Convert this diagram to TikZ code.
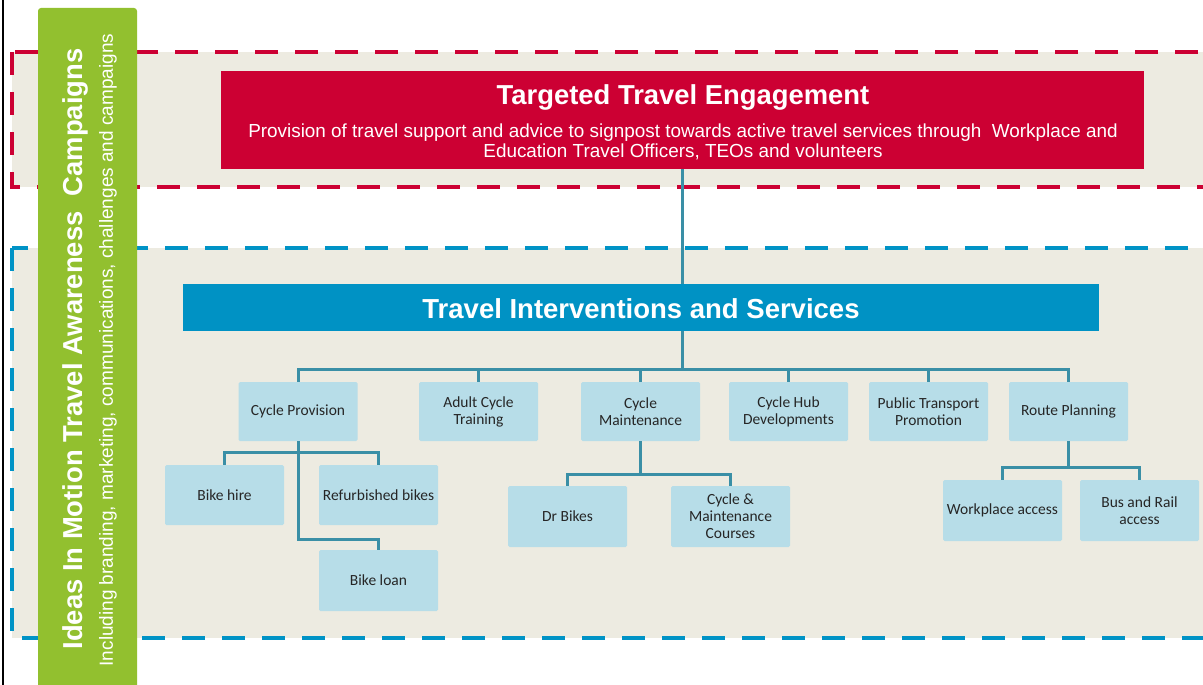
\documentclass[tikz,border=0pt]{standalone}
\usepackage{fontspec}
\setmainfont{Liberation Sans}
\newfontfamily\boxfont{Carlito}
\definecolor{beige}{HTML}{EDEBE1}
\definecolor{tred}{HTML}{CC0033}
\definecolor{tblue}{HTML}{0092C4}
\definecolor{dblue}{HTML}{0093C6}
\definecolor{teal}{HTML}{3A8FA6}
\definecolor{lblue}{HTML}{B7DDE8}
\definecolor{tgreen}{HTML}{92C02F}
\definecolor{dtext}{HTML}{262626}
\tikzset{
  dashbox/.style={fill=beige, line width=4pt, dash pattern=on 23pt off 17pt},
  itembox/.style={fill=lblue, rounded corners=1.5pt, inner sep=0pt, minimum width=119pt, font=\boxfont\fontsize{15.5}{17}\selectfont, text=dtext, align=center},
  conn/.style={draw=teal, line width=3pt},
}
\begin{document}
\begin{tikzpicture}[x=1pt,y=-1pt]
\useasboundingbox (0,0) rectangle (1203,685);
\clip (0,0) rectangle (1203,685);
\fill[white] (0,0) rectangle (1203,685);
% outer dashed areas
\draw[dashbox, draw=tred] (12,52) rectangle (1230,187);
\draw[dashbox, draw=dblue] (12,248) rectangle (1230,638);
% left black line
\draw[black, line width=2pt] (3,-5) -- (3,700);
% green strip
\fill[tgreen, rounded corners=3pt] (38,8) rectangle (137,720);
\node[rotate=90, text=white, font=\bfseries\fontsize{27.4}{32}\selectfont] (gtitle) at (75,349) {Ideas In Motion Travel Awareness\ \ Campaigns};
\node[rotate=90, text=white, font=\fontsize{19}{22}\selectfont] (gsub) at (108,350) {Including branding, marketing, communications, challenges and campaigns};
% red box
\node[fill=tred, minimum width=923pt, minimum height=98pt, inner sep=0pt] (red) at (682.5,120) {};
\node[text=white, font=\bfseries\fontsize{27.4}{32}\selectfont] (rtitle) at (683,97) {Targeted Travel Engagement};
\node[text=white, font=\fontsize{18.9}{20.5}\selectfont, align=center] (rsub) at (683,142) {Provision of travel support and advice to signpost towards active travel services through\ \ Workplace and\\Education Travel Officers, TEOs and volunteers};
% blue bar
\node[fill=tblue, minimum width=916pt, minimum height=47pt, inner sep=0pt] (bar) at (641,307.5) {};
\node[text=white, font=\bfseries\fontsize{27.5}{32}\selectfont] (btitle) at (641,309) {Travel Interventions and Services};
% first-level items
\node[itembox, minimum height=59pt] (cp) at (298,411.5) {Cycle Provision};
\node[itembox, minimum height=59pt] (act) at (478.5,411.5) {Adult Cycle\\Training};
\node[itembox, minimum height=59pt] (cm) at (640.5,411.5) {Cycle\\Maintenance};
\node[itembox, minimum height=59pt] (ch) at (788.5,411.5) {Cycle Hub\\Developments};
\node[itembox, minimum height=59pt] (pt) at (928.5,411.5) {Public Transport\\Promotion};
\node[itembox, minimum height=59pt] (rp) at (1068.5,411.5) {Route Planning};
% second-level items
\node[itembox, minimum height=60pt] (bh) at (224.5,495) {Bike hire};
\node[itembox, minimum height=60pt] (rb) at (378.5,495) {Refurbished bikes};
\node[itembox, minimum height=61pt] (bl) at (378.5,580.5) {Bike loan};
\node[itembox, minimum height=61pt] (db) at (567.5,516.5) {Dr Bikes};
\node[itembox, minimum height=61pt] (cc) at (730.5,516.5) {Cycle \&\\Maintenance\\Courses};
\node[itembox, minimum height=61pt] (wa) at (1002.5,510.5) {Workplace access};
\node[itembox, minimum height=61pt] (br) at (1139.5,510.5) {Bus and Rail\\access};
% connectors
\draw[conn] (red.south) -- (red.south |- bar.north);
\draw[conn] (red.south |- bar.south) -- ++(0,39);
\draw[conn] (cp.north) -- ++(0,-12) -| (rp.north);
\draw[conn] (act.north) -- ++(0,-12);
\draw[conn] (cm.north) -- ++(0,-12);
\draw[conn] (ch.north) -- ++(0,-12);
\draw[conn] (pt.north) -- ++(0,-12);
\draw[conn] (cp.south) |- ([yshift=10pt]bl.north) -- (bl.north);
\draw[conn] (bh.north) -- ++(0,-12) -| (rb.north);
\draw[conn] (cm.south) -- ++(0,34);
\draw[conn] (db.north) -- ++(0,-11) -| (cc.north);
\draw[conn] (rp.south) -- ++(0,27);
\draw[conn] (wa.north) -- ++(0,-12) -| (br.north);
\end{tikzpicture}
\end{document}
